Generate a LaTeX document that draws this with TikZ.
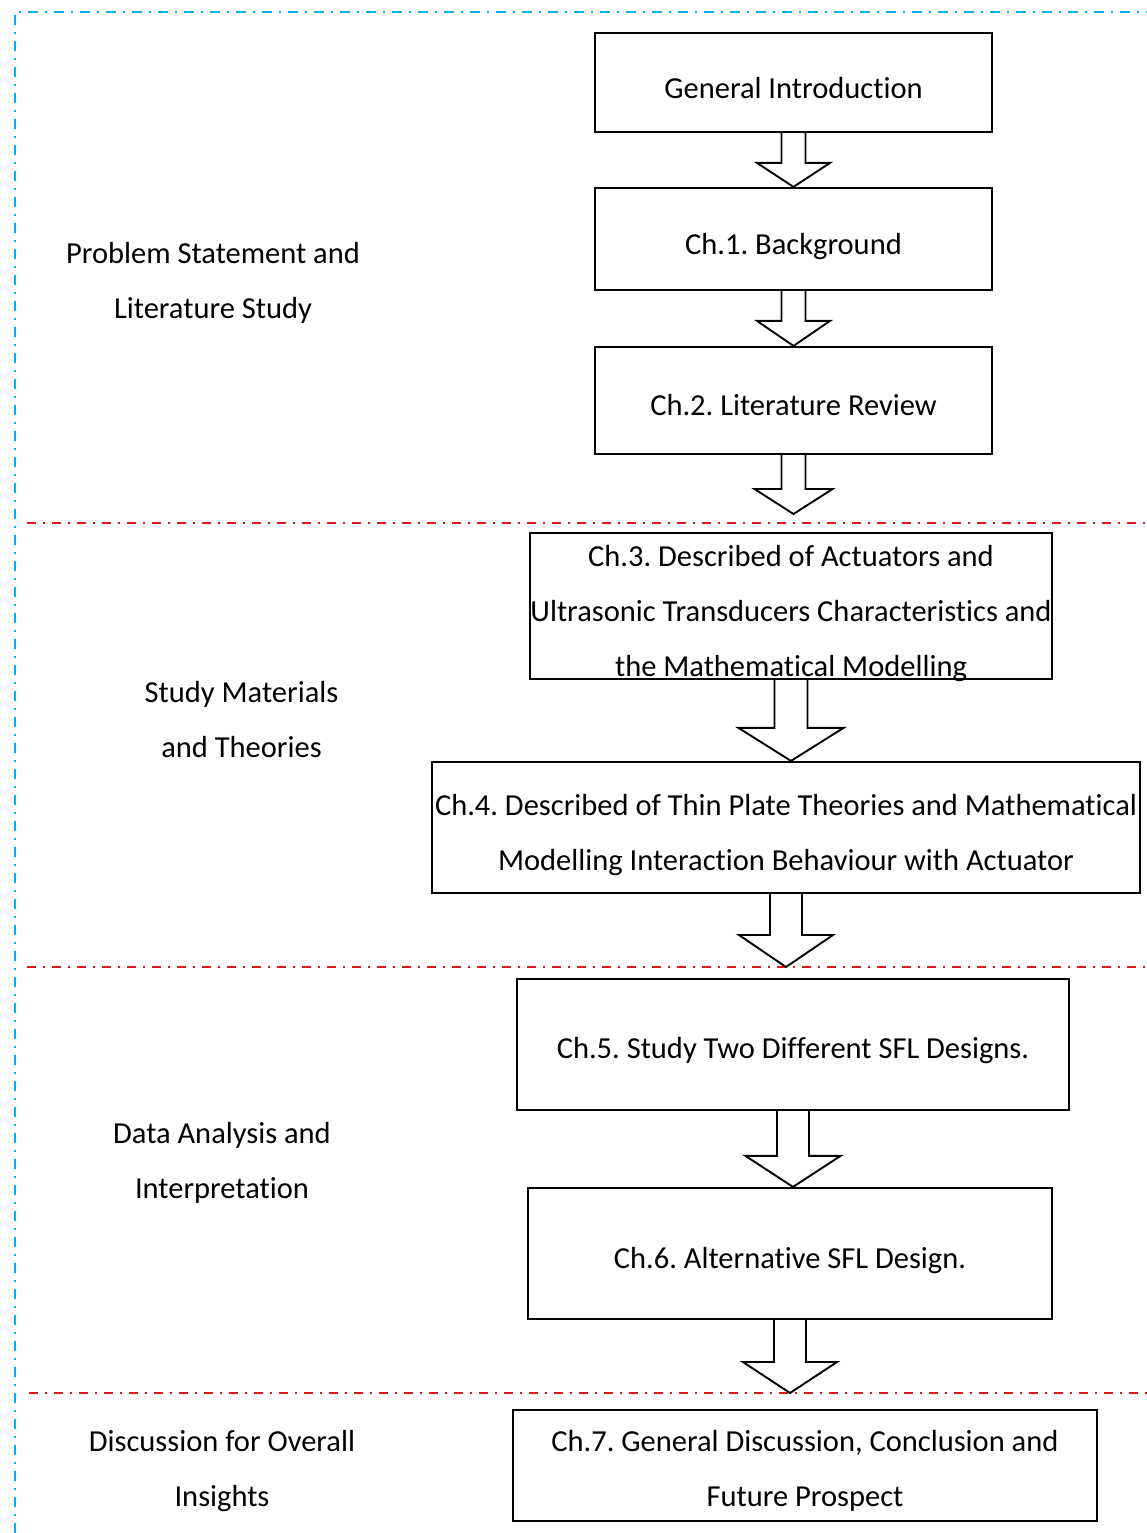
\documentclass[tikz,border=0pt]{standalone}
\usepackage{fontspec}
\setmainfont[Ligatures=NoCommon]{Carlito}
\usetikzlibrary{calc}
\definecolor{frameblue}{RGB}{0,176,240}
\definecolor{sepred}{RGB}{222,24,24}
\frenchspacing
\tikzset{
  box/.style={draw, line width=1.1pt, inner sep=0pt},
  lbl/.style={font=\fontsize{15.25}{27.5}\selectfont, align=center, inner sep=0pt},
  arrowline/.style={draw, line width=0.95pt, line join=miter},
  frameline/.style={frameblue, line width=1.25pt, dash pattern=on 5pt off 3.5pt on 1pt off 3.5pt},
  sepline/.style={sepred, line width=1.2pt, dash pattern=on 4.5pt off 3.5pt on 1pt off 3.5pt}
}
% #1 source node, #2 target point, #3 shaft half width, #4 head half width, #5 head length (all in px)
\newcommand{\blockarrow}[5]{%
  \draw[arrowline] let \p1=(#1.south), \p2=(#2) in
    (\x1-#3*0.5pt,\y1) -- (\x1-#3*0.5pt,\y2+#5*0.5pt) -- (\x1-#4*0.5pt,\y2+#5*0.5pt)
    -- (\x1,\y2) -- (\x1+#4*0.5pt,\y2+#5*0.5pt) -- (\x1+#3*0.5pt,\y2+#5*0.5pt)
    -- (\x1+#3*0.5pt,\y1);}
\begin{document}
\begin{tikzpicture}[x=0.5pt,y=-0.5pt]
\useasboundingbox (0,0) rectangle (1147,1533);

% frame
\coordinate (fbl) at (15,1533);
\coordinate (ftl) at (15,12);
\coordinate (ftr) at (1147,12);
\draw[frameline] (fbl) -- (ftl) -- (ftr);

% separators
\coordinate (s1a) at (27,523);  \coordinate (s1b) at (1147,523);
\coordinate (s2a) at (27,967);  \coordinate (s2b) at (1147,967);
\coordinate (s3a) at (29,1393); \coordinate (s3b) at (1147,1393);
\draw[sepline] (s1a) -- (s1b);
\draw[sepline] (s2a) -- (s2b);
\draw[sepline] (s3a) -- (s3b);

% boxes
\node[box, minimum width=198.5pt, minimum height=49.5pt] (b0) at (793.5,82.5) {};
\node[box, minimum width=198.5pt, minimum height=51pt]   (b1) at (793.5,239) {};
\node[box, minimum width=198.5pt, minimum height=53.5pt] (b2) at (793.5,400.5) {};
\node[box, minimum width=261pt,   minimum height=73pt]   (b3) at (791,606) {};
\node[box, minimum width=354pt,   minimum height=65.5pt] (b4) at (786,827.5) {};
\node[box, minimum width=276pt,   minimum height=65.5pt] (b5) at (793,1044.5) {};
\node[box, minimum width=262pt,   minimum height=65.5pt] (b6) at (790,1253.5) {};
\node[box, minimum width=292pt,   minimum height=55.5pt] (b7) at (805,1465.5) {};

% box texts
\node[lbl] (b0t) at (793.5,88) {General Introduction};
\node[lbl] (b1t) at (793.5,247) {Ch.1. Background};
\node[lbl] (b2t) at (793.5,405) {Ch.2. Literature Review};
\node[lbl] (b3t) at (791,614) {Ch.3. Described of Actuators and\\Ultrasonic Transducers Characteristics and\\the Mathematical Modelling};
\node[lbl] (b4t) at (786,835.5) {Ch.4. Described of Thin Plate Theories and Mathematical\\Modelling Interaction Behaviour with Actuator};
\node[lbl] (b5t) at (793,1051) {Ch.5. Study Two Different SFL Designs.};
\node[lbl] (b6t) at (790,1261) {Ch.6. Alternative SFL Design.};
\node[lbl] (b7t) at (805,1470.5) {Ch.7. General Discussion, Conclusion and\\Future Prospect};

% section labels
\node[lbl] (l1) at (213,282.5) {Problem Statement and\\Literature Study};
\node[lbl] (l2) at (241.5,719.5) {Study Materials\\and Theories};
\node[lbl] (l3) at (222,1162.5) {Data Analysis and\\Interpretation};
\node[lbl] (l4) at (222,1471.5) {Discussion for Overall\\Insights};

% arrow tips on the separators
\coordinate (t3) at (794,514);
\coordinate (t5) at (786,967);
\coordinate (t7) at (790,1393);

% block arrows
\blockarrow{b0}{b1.north}{12}{36.5}{24}
\blockarrow{b1}{b2.north}{12}{36.5}{25}
\blockarrow{b2}{t3}{12}{39}{25}
\blockarrow{b3}{b4.north}{16.5}{52.5}{33}
\blockarrow{b4}{t5}{16}{47}{32}
\blockarrow{b5}{b6.north}{16}{47.5}{31}
\blockarrow{b6}{t7}{16}{47}{31}
\end{tikzpicture}
\end{document}
